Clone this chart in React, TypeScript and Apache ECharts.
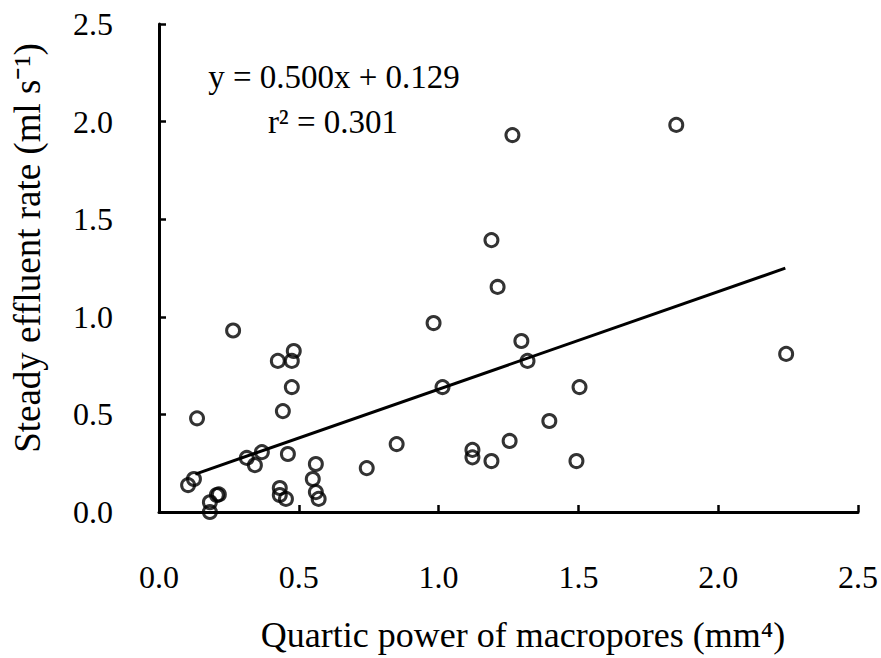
import React, { useEffect, useRef } from "react";
import * as echarts from "echarts";

const pointsX = [
  0.104, 0.125, 0.136, 0.265, 0.182, 0.182, 0.207, 0.214, 0.314, 0.343, 0.368,
  0.425, 0.475, 0.482, 0.475, 0.443, 0.461, 0.432, 0.432, 0.454, 0.561, 0.55,
  0.561, 0.571, 0.743, 0.85, 0.982, 1.014, 1.121, 1.121, 1.189, 1.189, 1.211,
  1.254, 1.264, 1.296, 1.318, 1.396, 1.493, 1.504, 1.85, 2.243,
];
const pointsY = [
  0.138, 0.169, 0.48, 0.93, 0.05, 0.0, 0.087, 0.09, 0.277, 0.24, 0.307,
  0.774, 0.774, 0.825, 0.64, 0.517, 0.297, 0.123, 0.087, 0.067, 0.246, 0.169,
  0.102, 0.067, 0.225, 0.348, 0.968, 0.64, 0.318, 0.28, 0.261, 1.393, 1.153,
  0.364, 1.931, 0.876, 0.774, 0.466, 0.261, 0.64, 1.983, 0.81,
];
const trendX = [0.13, 2.24];
const trendY = [0.194, 1.249];
const xTicks = [0, 0.5, 1.0, 1.5, 2.0, 2.5];
const yTicks = [0, 0.5, 1.0, 1.5, 2.0, 2.5];
const equationText = "y = 0.500x + 0.129";
const r2Text = "r² = 0.301";
const xTitle = "Quartic power of macropores (mm⁴)";
const yTitle = "Steady effluent rate (ml s⁻¹)";

const FONT = "'Liberation Serif', 'Times New Roman', serif";

export default function App() {
  const ref = useRef<HTMLDivElement>(null);
  useEffect(() => {
    if (!ref.current) return;
    const chart = echarts.init(ref.current, null, { renderer: "svg" });
    const scatterData = pointsX.map((x, i) => [x, pointsY[i]]);
    const lineData = trendX.map((x, i) => [x, trendY[i]]);
    const axisCommon = {
      type: "value" as const,
      axisLine: { show: true, lineStyle: { color: "#000", width: 3 } },
      axisTick: { show: true, inside: true, length: 7, lineStyle: { color: "#000", width: 2.5 } },
      splitLine: { show: false },
      axisLabel: {
        color: "#000",
        fontFamily: FONT,
        fontSize: 32,
        formatter: (v: number) => v.toFixed(1),
      },
    };
    chart.setOption({
      animation: false,
      backgroundColor: "#fff",
      grid: { left: 159, right: 22, top: 24, bottom: 146, containLabel: false },
      xAxis: {
        ...axisCommon,
        min: xTicks[0],
        max: xTicks[xTicks.length - 1],
        interval: 0.5,
        axisLabel: { ...axisCommon.axisLabel, margin: 49 },
      },
      yAxis: {
        ...axisCommon,
        min: yTicks[0],
        max: yTicks[yTicks.length - 1],
        interval: 0.5,
        axisLabel: { ...axisCommon.axisLabel, margin: 46 },
      },
      series: [
        {
          type: "line",
          data: lineData,
          symbol: "none",
          lineStyle: { color: "#000", width: 3 },
          z: 2,
        },
        {
          type: "scatter",
          data: scatterData,
          symbol: "circle",
          symbolSize: 13,
          itemStyle: { color: "rgba(0,0,0,0)", borderColor: "#000", borderWidth: 3 },
          z: 3,
        },
      ],
      graphic: [
        {
          type: "text",
          x: 334,
          y: 93,
          style: {
            text: equationText,
            fill: "#000",
            font: `33px ${FONT}`,
            textAlign: "center",
            textVerticalAlign: "bottom",
          },
        },
        {
          type: "text",
          x: 333,
          y: 138,
          style: {
            text: r2Text,
            fill: "#000",
            font: `33px ${FONT}`,
            textAlign: "center",
            textVerticalAlign: "bottom",
          },
        },
        {
          type: "text",
          x: 523,
          y: 635,
          style: {
            text: xTitle,
            fill: "#000",
            font: `36px ${FONT}`,
            textAlign: "center",
            textVerticalAlign: "middle",
          },
        },
        {
          type: "text",
          x: 27,
          y: 248,
          rotation: Math.PI / 2,
          style: {
            text: yTitle,
            fill: "#000",
            font: `37px ${FONT}`,
            textAlign: "center",
            textVerticalAlign: "middle",
          },
        },
      ],
    });
    return () => chart.dispose();
  }, []);
  return (
    <div
      ref={ref}
      style={{ position: "fixed", left: 0, top: 0, width: 881, height: 658 }}
    />
  );
}
